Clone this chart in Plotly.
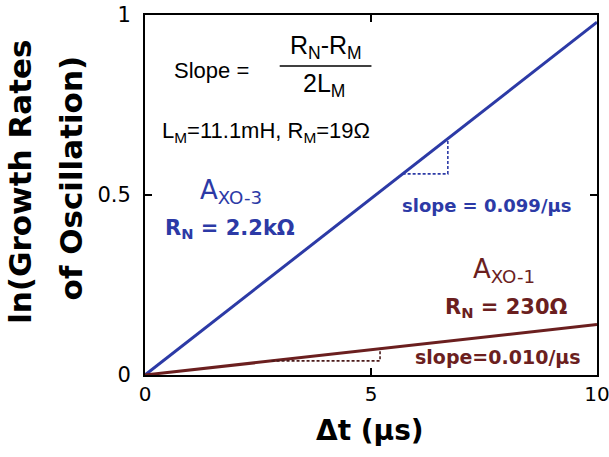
import numpy as np
import plotly.graph_objects as go

# Time axis (μs) and ln(growth rate) for the two oscillator configurations
dt = [0, 10]
axo3_ln = [0, 0.98]   # A_XO-3, R_N = 2.2 kΩ
axo1_ln = [0, 0.14]   # A_XO-1, R_N = 230 Ω

# x extent of the dashed slope triangles drawn under each line
axo3_tri = [5.7, 6.7]
axo1_tri = [2.8, 5.2]

x_ticks = [0, 5, 10]
y_ticks = [0, 0.5, 1]
y_tick_text = ["0", "0.5", "1"]

BLUE = "#2c3aa6"
BROWN = "#6b1f1f"
SANS = "DejaVu Sans"
ARIAL = "Liberation Sans, Arial"


def on_line(xs, xline, yline):
    return list(np.interp(xs, xline, yline))


def triangle(xr, xline, yline):
    y0, y1 = on_line(xr, xline, yline)
    return [xr[0], xr[1], xr[1]], [y0, y0, y1]


fig = go.Figure()

fig.add_trace(go.Scatter(x=dt, y=axo3_ln, mode="lines",
                         line=dict(color=BLUE, width=3), showlegend=False))
fig.add_trace(go.Scatter(x=dt, y=axo1_ln, mode="lines",
                         line=dict(color=BROWN, width=3), showlegend=False))

tx, ty = triangle(axo3_tri, dt, axo3_ln)
fig.add_trace(go.Scatter(x=tx, y=ty, mode="lines",
                         line=dict(color=BLUE, width=1.6, dash="3px,2px"),
                         showlegend=False))
tx, ty = triangle(axo1_tri, dt, axo1_ln)
fig.add_trace(go.Scatter(x=tx, y=ty, mode="lines",
                         line=dict(color="#4a1a1a", width=1.6, dash="3px,2px"),
                         showlegend=False))


def note(text, x, y, size, color="black", family=SANS, **kw):
    fig.add_annotation(text=text, x=x, y=y, xref="x", yref="y",
                       showarrow=False, xanchor="center", yanchor="middle",
                       font=dict(family=family, size=size, color=color), **kw)


# Slope formula
note("Slope =", 1.48, 0.847, 22, family=ARIAL)
note("R<sub>N</sub>-R<sub>M</sub>", 4.0, 0.912, 25, family=ARIAL)
note("2L<sub>M</sub>", 3.97, 0.805, 25, family=ARIAL)
fig.add_shape(type="line", xref="x", yref="y", x0=2.98, x1=5.01,
              y0=0.858, y1=0.858, line=dict(color="black", width=1.5))
note("L<sub>M</sub>=11.1mH, R<sub>M</sub>=19Ω", 2.67, 0.675, 22, family=ARIAL)

# Series labels
note("A<sub>XO-3</sub>", 1.9, 0.51, 26, BLUE)
note("<b>R<sub>N</sub> = 2.2kΩ</b>", 1.88, 0.405, 21, BLUE)
note("<b>slope = 0.099/μs</b>", 7.55, 0.472, 18, BLUE)
note("A<sub>XO-1</sub>", 7.95, 0.29, 26, BROWN)
note("<b>R<sub>N</sub> = 230Ω</b>", 7.99, 0.185, 21, BROWN)
note("<b>slope=0.010/μs</b>", 7.81, 0.05, 19, BROWN)

# Axis titles
fig.add_annotation(text="<b>ln(Growth Rates</b>", xref="paper", yref="paper",
                   x=-0.277, y=0.536, textangle=-90, showarrow=False,
                   xanchor="center", yanchor="middle",
                   font=dict(family=SANS, size=31, color="black"))
fig.add_annotation(text="<b>of Oscillation)</b>", xref="paper", yref="paper",
                   x=-0.163, y=0.547, textangle=-90, showarrow=False,
                   xanchor="center", yanchor="middle",
                   font=dict(family=SANS, size=31, color="black"))
fig.add_annotation(text="<b>Δt (μs)</b>", xref="paper", yref="paper",
                   x=0.497, y=-0.153, showarrow=False,
                   xanchor="center", yanchor="middle",
                   font=dict(family=SANS, size=28, color="black"))

axis_common = dict(showgrid=False, zeroline=False, showline=True,
                   linecolor="black", linewidth=2, mirror="ticks",
                   ticks="inside", ticklen=7, tickwidth=1.5, tickcolor="black",
                   automargin=False, ticklabeloverflow="allow")

fig.update_xaxes(range=[0, 10], tickvals=x_ticks,
                 tickfont=dict(family=SANS, size=20, color="black"),
                 **axis_common)
fig.update_yaxes(range=[0, 1], tickvals=y_ticks, ticktext=y_tick_text,
                 ticklabelstandoff=8,
                 tickfont=dict(family=SANS, size=21, color="black"),
                 **axis_common)

fig.update_layout(width=609, height=457,
                  margin=dict(l=145, r=12, t=15, b=82),
                  plot_bgcolor="white", paper_bgcolor="white")

fig.write_html("out.html")
